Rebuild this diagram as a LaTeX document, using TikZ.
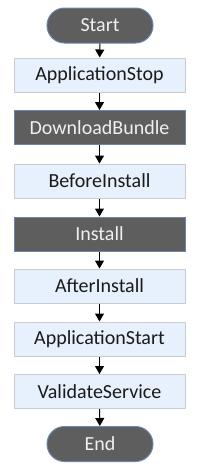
\documentclass[tikz,border=0pt]{standalone}
\usepackage{fontspec}
\setmainfont{Carlito}
\usepackage{tikz}
\usetikzlibrary{arrows.meta, positioning}
\definecolor{hookfill}{HTML}{E7F1FD}
\definecolor{hookline}{HTML}{C9CDD2}
\definecolor{darkfill}{HTML}{5E5E5E}
\definecolor{darkline}{HTML}{6A86AE}
\definecolor{textgray}{HTML}{1A1A1A}

\tikzset{
    hookbox/.style={draw=hookline, fill=hookfill, line width=1pt, minimum width=171pt, minimum height=34pt, inner sep=0pt, text=textgray, font=\fontsize{20}{23}\selectfont},
    fixedbox/.style={hookbox, draw=darkline, fill=darkfill, text=white!94!black},
    termbox/.style={fixedbox, minimum width=106pt, minimum height=35pt, rounded corners=17.5pt},
    flow/.style={->, line width=1pt, black}
}

\begin{document}
\begin{tikzpicture}[>={Triangle[length=8pt, width=9pt]}, x=1pt, y=-1pt]
    \useasboundingbox (0,0) rectangle (206,472);

    % Lifecycle events
    \node[termbox] (start) at (100, 25.5) {Start};
    \node[hookbox] (appstop) at (99.5, 75) {ApplicationStop};
    \node[fixedbox] (download) at (99.5, 127.5) {DownloadBundle};
    \node[hookbox] (beforeinst) at (99.5, 181) {BeforeInstall};
    \node[fixedbox] (install) at (99.5, 234) {Install};
    \node[hookbox] (afterinst) at (99.5, 286) {AfterInstall};
    \node[hookbox] (appstart) at (99.5, 339) {ApplicationStart};
    \node[hookbox] (validate) at (99.5, 391.5) {ValidateService};
    \node[termbox] (end) at (100, 444) {End};

    % Flow
    \draw[flow] (start) -- (appstop);
    \draw[flow] (appstop) -- (download);
    \draw[flow] (download) -- (beforeinst);
    \draw[flow] (beforeinst) -- (install);
    \draw[flow] (install) -- (afterinst);
    \draw[flow] (afterinst) -- (appstart);
    \draw[flow] (appstart) -- (validate);
    \draw[flow] (validate) -- (end);
\end{tikzpicture}
\end{document}
